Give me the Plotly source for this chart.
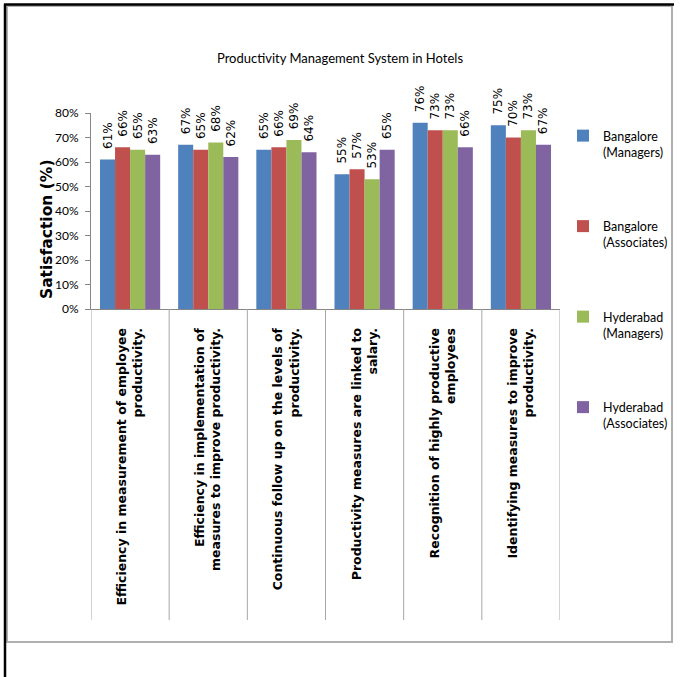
import plotly.graph_objects as go

categories = [
    "Efficiency in measurement of employee<br>productivity.",
    "Efficiency in implementation of<br>measures to improve productivity.",
    "Continuous follow up on the levels of<br>productivity.",
    "Productivity measures are linked to<br>salary.",
    "Recognition of highly productive<br>employees",
    "Identifying measures to improve<br>productivity.",
]
series_names = [
    "Bangalore<br>(Managers)",
    "Bangalore<br>(Associates)",
    "Hyderabad<br>(Managers)",
    "Hyderabad<br>(Associates)",
]
bangalore_managers = [0.61, 0.67, 0.65, 0.55, 0.76, 0.75]
bangalore_associates = [0.66, 0.65, 0.66, 0.57, 0.73, 0.70]
hyderabad_managers = [0.65, 0.68, 0.69, 0.53, 0.73, 0.73]
hyderabad_associates = [0.63, 0.62, 0.64, 0.65, 0.66, 0.67]
colors = ["#4F81BD", "#C0504D", "#9BBB59", "#8064A2"]
y_ticks = [0, 0.1, 0.2, 0.3, 0.4, 0.5, 0.6, 0.7, 0.8]

W, H = 680, 677
L, R, T, B = 91, 560, 113, 309  # plot area pixels

def px_x(p):
    return (p - L) / (R - L)

def px_y(p):
    return (B - p) / (B - T)

narrow = "Lato, Liberation Sans Narrow, sans-serif"
verd = "DejaVu Sans, Verdana, sans-serif"
NB = "\u00a0\u00a0"

fig = go.Figure()
all_series = [bangalore_managers, bangalore_associates, hyderabad_managers, hyderabad_associates]
for i, (name, vals) in enumerate(zip(series_names, all_series)):
    fig.add_trace(go.Bar(
        x=list(range(len(categories))), y=vals, name=name,
        marker=dict(color=colors[i], line=dict(width=0)),
        text=[f"{NB}{round(v*100)}%" for v in vals],
        textposition="outside", textangle=-90, constraintext="none",
        cliponaxis=False,
        textfont=dict(family=verd, size=12, color="#000000"),
        legendgroup=f"g{i}",
    ))

shapes = []
# separators in category-label area
for k in range(len(categories) + 1):
    shapes.append(dict(type="line", xref="x", yref="paper",
                       x0=k - 0.5, x1=k - 0.5, y0=0, y1=px_y(620),
                       line=dict(color="#A6A6A6", width=1)))
# gray chart frame
shapes.append(dict(type="rect", xref="paper", yref="paper",
                   x0=px_x(7), x1=px_x(672), y0=px_y(642), y1=px_y(6),
                   line=dict(color="#B0B0B0", width=2), layer="below"))
# black page lines
shapes.append(dict(type="line", xref="paper", yref="paper",
                   x0=px_x(4), x1=px_x(674), y0=px_y(4.5), y1=px_y(4.5),
                   line=dict(color="#000000", width=2.5)))
shapes.append(dict(type="line", xref="paper", yref="paper",
                   x0=px_x(5), x1=px_x(5), y0=px_y(680), y1=px_y(4),
                   line=dict(color="#000000", width=2.5)))

annotations = [
    dict(text="<b>Satisfaction (%)</b>", xref="paper", yref="paper",
         x=px_x(47), y=px_y(230), textangle=-90, showarrow=False,
         font=dict(family=verd, size=15.5, color="#000000"),
         xanchor="center", yanchor="middle"),
]

fig.update_layout(
    width=W, height=H,
    margin=dict(l=L, r=W - R, t=T, b=H - B, pad=0, autoexpand=False),
    paper_bgcolor="white", plot_bgcolor="white",
    barmode="group", bargap=0.23, bargroupgap=0,
    title=dict(text="Productivity Management System in Hotels",
               x=0.5, xanchor="center",
               y=1 - 58 / H, yanchor="middle", yref="container", xref="container",
               font=dict(family=narrow, size=13, color="#000000")),
    xaxis=dict(
        tickmode="array", tickvals=list(range(len(categories))),
        ticktext=[f"<b>{c}</b>" for c in categories],
        tickangle=-90, range=[-0.5, len(categories) - 0.5],
        showline=True, linecolor="#868686", linewidth=1, ticks="",
        ticklabelstandoff=13,
        showgrid=False, zeroline=False, automargin=False,
        tickfont=dict(family=verd, size=12.5, color="#000000"),
    ),
    yaxis=dict(
        range=[0, 0.8], tickvals=y_ticks, tickformat=".0%",
        showline=True, linecolor="#868686", linewidth=1,
        ticks="outside", ticklen=5, tickcolor="#868686",
        ticklabelstandoff=4,
        showgrid=False, zeroline=False, automargin=False,
        tickfont=dict(family=narrow, size=12, color="#000000"),
    ),
    legend=dict(x=px_x(563), y=px_y(121), xanchor="left", yanchor="top",
                font=dict(family=narrow, size=12.5, color="#000000"),
                tracegroupgap=55, bgcolor="rgba(0,0,0,0)",
                itemwidth=30, valign="top", maxheight=600),
    shapes=shapes, annotations=annotations,
)

fig.write_html("out.html", config={"displayModeBar": False},
               post_script="document.body.style.margin='0';document.body.style.overflow='hidden';")
